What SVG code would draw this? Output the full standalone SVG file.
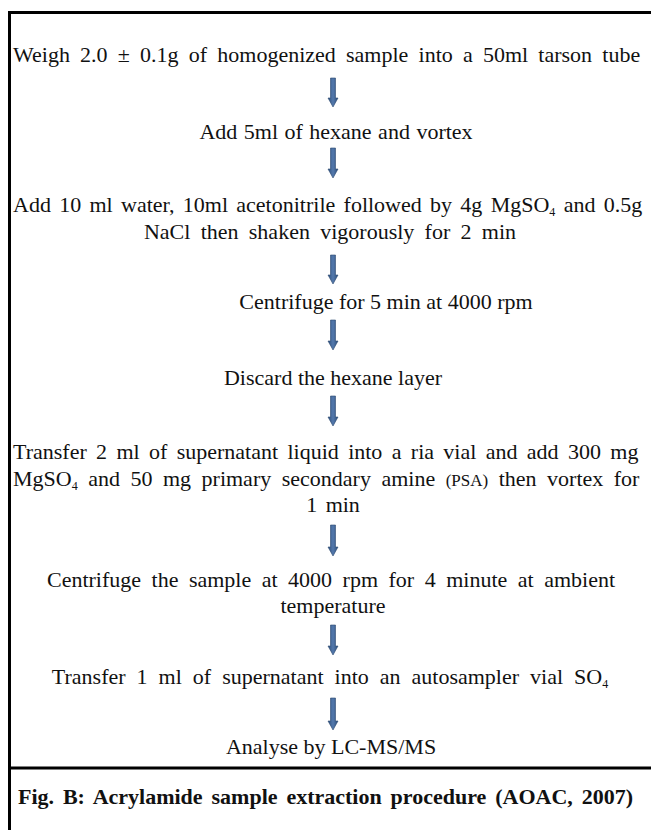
<svg xmlns="http://www.w3.org/2000/svg" width="651" height="830" viewBox="0 0 651 830">
<style>
  .t { font-family: "Liberation Serif", "Times New Roman", serif; font-size: 22px; fill: #111; }
  .c { text-anchor: middle; }
  .sub { font-size: 12px; }
  .sm { font-size: 17px; }
  .cap { font-family: "Liberation Serif", "Times New Roman", serif; font-size: 22px; font-weight: bold; fill: #111; }
  .border { fill: none; stroke: #000; stroke-width: 3; }
  .ar { fill: url(#ag); stroke: #2d4a70; stroke-width: 0.6; }
</style>
<defs>
  <linearGradient id="ag" x1="0" x2="1" y1="0" y2="0">
    <stop offset="0" stop-color="#2d4f7c"/>
    <stop offset="0.5" stop-color="#5479ad"/>
    <stop offset="1" stop-color="#2d4f7c"/>
  </linearGradient>
</defs>
<rect width="651" height="830" fill="#fff"/>
<path class="border" d="M9.5,830 V12.5 H660"/>
<line x1="8" y1="768" x2="660" y2="768" stroke="#000" stroke-width="3"/>

<g id="connectors">
  <path class="ar" d="M330.5,78 H335.5 V98 H338 L333,107 L328,98 H330.5 Z"/>
  <path class="ar" d="M330.5,148 H335.5 V169 H338 L333,178 L328,169 H330.5 Z"/>
  <path class="ar" d="M330.5,255 H335.5 V275 H338 L333,284 L328,275 H330.5 Z"/>
  <path class="ar" d="M330.5,320 H335.5 V341 H338 L333,350 L328,341 H330.5 Z"/>
  <path class="ar" d="M330.5,396 H335.5 V417 H338 L333,426 L328,417 H330.5 Z"/>
  <path class="ar" d="M330.5,525 H335.5 V547 H338 L333,556 L328,547 H330.5 Z"/>
  <path class="ar" d="M330.5,625 H335.5 V646 H338 L333,655 L328,646 H330.5 Z"/>
  <path class="ar" d="M330.5,698 H335.5 V721 H338 L333,730 L328,721 H330.5 Z"/>
</g>

<g id="step1"><text class="t" x="13" y="62" word-spacing="4.7">Weigh 2.0 ± 0.1g of homogenized sample into a 50ml tarson tube</text></g>
<g id="step2"><text class="t c" x="336" y="139" word-spacing="1">Add 5ml of hexane and vortex</text></g>
<g id="step3">
  <text class="t" x="13" y="212" word-spacing="2.8">Add 10 ml water, 10ml acetonitrile followed by 4g MgSO<tspan class="sub" dy="4">4</tspan><tspan dy="-4"> and 0.5g</tspan></text>
  <text class="t c" x="330" y="239" word-spacing="4.8">NaCl then shaken vigorously for 2 min</text>
</g>
<g id="step4"><text class="t c" x="386" y="309">Centrifuge for 5 min at 4000 rpm</text></g>
<g id="step5"><text class="t c" x="333" y="385">Discard the hexane layer</text></g>
<g id="step6">
  <text class="t" x="13" y="459" word-spacing="3.85">Transfer 2 ml of supernatant liquid into a ria vial and add 300 mg</text>
  <text class="t" x="13" y="486" word-spacing="5">MgSO<tspan class="sub" dy="4">4</tspan><tspan dy="-4"> and 50 mg primary secondary amine </tspan><tspan class="sm">(PSA)</tspan> then vortex for</text>
  <text class="t c" x="333" y="512" word-spacing="3">1 min</text>
</g>
<g id="step7">
  <text class="t c" x="331" y="587" word-spacing="5">Centrifuge the sample at 4000 rpm for 4 minute at ambient</text>
  <text class="t c" x="333" y="613">temperature</text>
</g>
<g id="step8"><text class="t c" x="330" y="684" word-spacing="5.5">Transfer 1 ml of supernatant into an autosampler vial SO<tspan class="sub" dy="4">4</tspan></text></g>
<g id="step9"><text class="t c" x="331" y="754">Analyse by LC-MS/MS</text></g>
<g id="caption"><text class="cap" x="18" y="804" word-spacing="3.4">Fig. B: Acrylamide sample extraction procedure (AOAC, 2007)</text></g>
</svg>
